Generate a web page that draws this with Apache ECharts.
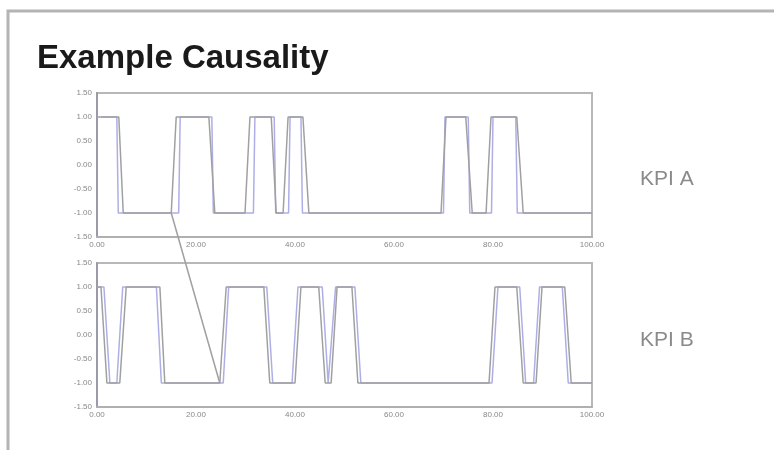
<!DOCTYPE html>
<html>
<head>
<meta charset="utf-8">
<script src="https://cdn.jsdelivr.net/npm/echarts@6/dist/echarts.min.js"></script>
<style>html,body{margin:0;padding:0;background:#fff}#c{width:774px;height:450px}</style>
</head>
<body>
<div id="c"></div>
<script>
// ---- data ----
const titleText = "Example Causality";
const kpiNames = ["KPI A", "KPI B"];
const yTicks = [-1.5, -1.0, -0.5, 0.0, 0.5, 1.0, 1.5];
const xTicks = [0, 20, 40, 60, 80, 100];

// KPI A (grey trace) [x, value]
const kpiA = [[0,1],[4.4,1],[5.3,-1],[15.0,-1],[16.0,1],[22.6,1],[23.8,-1],[29.9,-1],[30.9,1],[35.2,1],[36.2,-1],[37.6,-1],[38.6,1],[41.6,1],[42.8,-1],[69.5,-1],[70.5,1],[74.5,1],[75.8,-1],[78.6,-1],[79.6,1],[84.8,1],[86.1,-1],[100,-1]];
// KPI A raw (blue trace)
const kpiARaw = [[0.8,1],[4.0,1],[4.3,-1],[16.5,-1],[16.8,1],[23.2,1],[23.5,-1],[31.6,-1],[31.9,1],[35.8,1],[36.1,-1],[38.7,-1],[39.0,1],[41.2,1],[41.5,-1],[70.0,-1],[70.3,1],[75.0,1],[75.3,-1],[79.7,-1],[80.0,1],[84.6,1],[84.9,-1],[100,-1]];
// KPI B (grey trace)
const kpiB = [[0,1],[0.8,1],[2.0,-1],[4.6,-1],[5.9,1],[12.7,1],[13.7,-1],[24.8,-1],[26.1,1],[33.7,1],[34.9,-1],[40.0,-1],[41.2,1],[44.8,1],[46.1,-1],[47.3,-1],[48.5,1],[51.5,1],[52.7,-1],[79.2,-1],[80.4,1],[84.8,1],[86.1,-1],[88.7,-1],[89.9,1],[94.5,1],[95.8,-1],[100,-1]];
// KPI B raw (blue trace)
const kpiBRaw = [[0,1],[1.4,1],[2.6,-1],[4.0,-1],[5.2,1],[12.0,1],[13.0,-1],[25.5,-1],[26.6,1],[34.3,1],[35.5,-1],[39.4,-1],[40.6,1],[45.5,1],[46.7,-1],[47.0,-1],[48.2,1],[52.1,1],[53.3,-1],[79.8,-1],[81.0,1],[85.4,1],[86.6,-1],[88.2,-1],[89.4,1],[94.0,1],[95.2,-1],[100,-1]];
// causality link: from KPI A rise (x) to KPI B rise (x), both at low level
const linkFrom = [15.0, -1];
const linkTo = [24.8, -1];

// ---- chart ----
const chart = echarts.init(document.getElementById('c'));
const font = 'Liberation Sans, Arial, sans-serif';
function xAxis(i){
  return {type:'value', gridIndex:i, min:xTicks[0], max:xTicks[xTicks.length-1], interval:20,
    axisLine:{show:true, onZero:false, lineStyle:{color:'#b0b0b0', width:2}},
    axisTick:{show:false}, splitLine:{show:false},
    axisLabel:{color:'#888', fontSize:8, fontFamily:font, margin:4, formatter:v=>v.toFixed(2)}};
}
function yAxis(i){
  return {type:'value', gridIndex:i, min:yTicks[0], max:yTicks[yTicks.length-1], interval:0.5,
    axisLine:{show:true, onZero:false, lineStyle:{color:'#9a9aa8', width:2}},
    axisTick:{show:false}, splitLine:{show:false},
    axisLabel:{color:'#888', fontSize:8, fontFamily:font, margin:5, formatter:v=>v.toFixed(2)}};
}
function line(data, color, i, z, w){
  return {type:'line', xAxisIndex:i, yAxisIndex:i, data:data, showSymbol:false, symbol:'none',
    animation:false, z:z, lineStyle:{color:color, width:w}};
}
chart.setOption({
  animation:false,
  backgroundColor:'#fff',
  title:{text:titleText, left:32, top:37, textStyle:{fontSize:33, fontWeight:'bold', color:'#1a1a1a', fontFamily:font}},
  grid:[
    {left:97, top:93, width:495, height:144, show:true, borderColor:'#b8b8b8', borderWidth:2, backgroundColor:'transparent'},
    {left:97, top:263, width:495, height:144, show:true, borderColor:'#b8b8b8', borderWidth:2, backgroundColor:'transparent'}
  ],
  xAxis:[xAxis(0), xAxis(1)],
  yAxis:[yAxis(0), yAxis(1)],
  series:[
    line(kpiARaw, '#aeaee6', 0, 2, 1.5),
    line(kpiA, '#a0a0a0', 0, 3, 1.5),
    line(kpiBRaw, '#aeaee6', 1, 2, 1.5),
    line(kpiB, '#a0a0a0', 1, 3, 1.5)
  ]
});
const p1 = chart.convertToPixel({gridIndex:0}, linkFrom);
const p2 = chart.convertToPixel({gridIndex:1}, linkTo);
const g0 = chart.convertToPixel({gridIndex:0}, [100, -0.3]);
const g1 = chart.convertToPixel({gridIndex:1}, [100, -0.1]);
chart.setOption({
  graphic:[
    {type:'rect', shape:{x:8, y:11, width:800, height:480}, style:{fill:'none', stroke:'#b4b4b4', lineWidth:3}, z:100},
    {type:'line', shape:{x1:p1[0], y1:p1[1], x2:p2[0], y2:p2[1]}, style:{stroke:'#a0a0a0', lineWidth:1.5}, z:100},
    {type:'text', x:g0[0]+48, y:g0[1], style:{text:kpiNames[0], fill:'#8a8a8a', font:'21px ' + font, textVerticalAlign:'middle'}, z:100},
    {type:'text', x:g1[0]+48, y:g1[1], style:{text:kpiNames[1], fill:'#8a8a8a', font:'21px ' + font, textVerticalAlign:'middle'}, z:100}
  ]
});
</script>
</body>
</html>
